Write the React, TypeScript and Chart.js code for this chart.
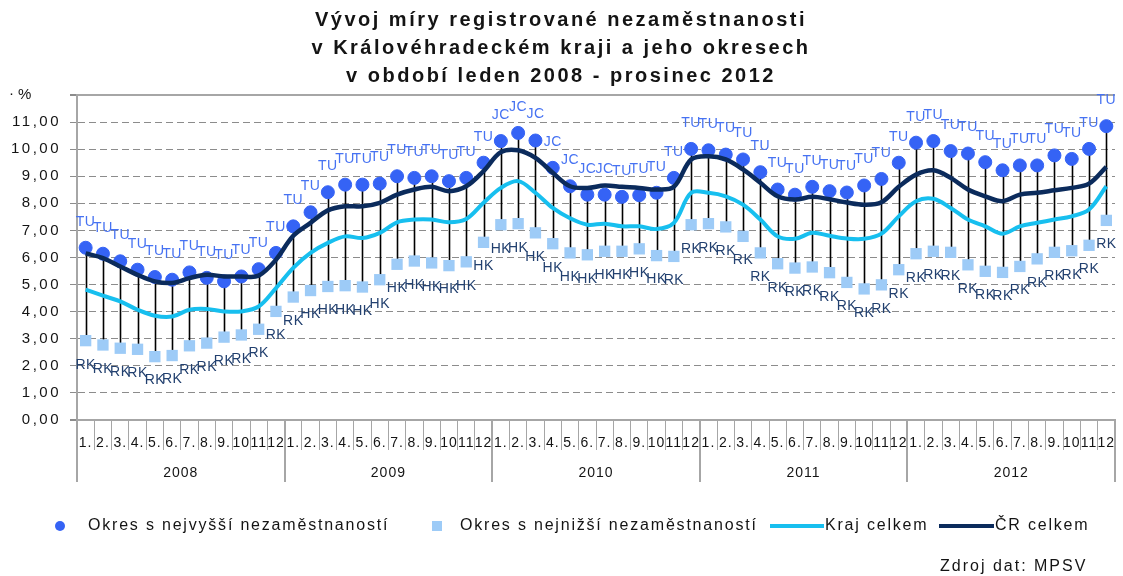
import React, { useEffect, useRef } from 'react';
import { Chart, registerables } from 'chart.js';

Chart.register(...registerables);

const FONT = '"Liberation Sans", Arial, Helvetica, sans-serif';

const titleLines = [
  'Vývoj míry registrované nezaměstnanosti',
  'v Královéhradeckém kraji a jeho okresech',
  'v období leden 2008 - prosinec 2012',
];

const years = ['2008', '2009', '2010', '2011', '2012'];
const monthLabels = ['1.', '2.', '3.', '4.', '5.', '6.', '7.', '8.', '9.', '10', '11', '12'];
const categories = years.flatMap((y) => monthLabels.map((m) => `${m} ${y}`));

const yTickMax = 12;

// Okres s nejvyšší nezaměstnaností
const maxValues = [
  6.36, 6.14, 5.86, 5.55, 5.28, 5.18, 5.45, 5.25, 5.12, 5.3, 5.57, 6.17,
  7.15, 7.67, 8.41, 8.69, 8.69, 8.73, 9.0, 8.94, 9.0, 8.82, 8.94, 9.5,
  10.3, 10.6, 10.32, 9.31, 8.63, 8.32, 8.32, 8.24, 8.3, 8.39, 8.94, 10.01,
  9.96, 9.8, 9.62, 9.15, 8.51, 8.32, 8.61, 8.45, 8.4, 8.66, 8.9, 9.5,
  10.24, 10.3, 9.93, 9.84, 9.52, 9.22, 9.4, 9.4, 9.77, 9.64, 10.01, 10.85,
];
const maxDistricts = [
  'TU', 'TU', 'TU', 'TU', 'TU', 'TU', 'TU', 'TU', 'TU', 'TU', 'TU', 'TU',
  'TU', 'TU', 'TU', 'TU', 'TU', 'TU', 'TU', 'TU', 'TU', 'TU', 'TU', 'TU',
  'JC', 'JC', 'JC', 'JC', 'JC', 'JC', 'JC', 'TU', 'TU', 'TU', 'TU', 'TU',
  'TU', 'TU', 'TU', 'TU', 'TU', 'TU', 'TU', 'TU', 'TU', 'TU', 'TU', 'TU',
  'TU', 'TU', 'TU', 'TU', 'TU', 'TU', 'TU', 'TU', 'TU', 'TU', 'TU', 'TU',
];

// Okres s nejnižší nezaměstnaností
const minValues = [
  2.93, 2.77, 2.65, 2.61, 2.34, 2.38, 2.74, 2.84, 3.06, 3.14, 3.35, 4.01,
  4.54, 4.78, 4.93, 4.96, 4.91, 5.18, 5.75, 5.87, 5.8, 5.7, 5.84, 6.56,
  7.21, 7.25, 6.91, 6.51, 6.17, 6.1, 6.23, 6.23, 6.32, 6.07, 6.04, 7.21,
  7.25, 7.13, 6.78, 6.17, 5.77, 5.61, 5.65, 5.44, 5.08, 4.84, 4.99, 5.55,
  6.14, 6.23, 6.19, 5.73, 5.49, 5.45, 5.67, 5.95, 6.19, 6.25, 6.45, 7.37,
];
const minDistricts = [
  'RK', 'RK', 'RK', 'RK', 'RK', 'RK', 'RK', 'RK', 'RK', 'RK', 'RK', 'RK',
  'RK', 'HK', 'HK', 'HK', 'HK', 'HK', 'HK', 'HK', 'HK', 'HK', 'HK', 'HK',
  'HK', 'HK', 'HK', 'HK', 'HK', 'HK', 'HK', 'HK', 'HK', 'HK', 'RK', 'RK',
  'RK', 'RK', 'RK', 'RK', 'RK', 'RK', 'RK', 'RK', 'RK', 'RK', 'RK', 'RK',
  'RK', 'RK', 'RK', 'RK', 'RK', 'RK', 'RK', 'RK', 'RK', 'RK', 'RK', 'RK',
];

// Kraj celkem
const krajValues = [
  4.81, 4.59, 4.38, 4.07, 3.85, 3.82, 4.07, 4.1, 4.01, 4.01, 4.19, 4.87,
  5.62, 6.17, 6.54, 6.78, 6.72, 6.91, 7.3, 7.4, 7.4, 7.3, 7.42, 8.02,
  8.57, 8.82, 8.39, 7.83, 7.45, 7.21, 7.25, 7.15, 7.15, 7.05, 7.28, 8.39,
  8.39, 8.26, 7.95, 7.4, 6.78, 6.69, 6.91, 6.8, 6.7, 6.69, 6.88, 7.52,
  8.08, 8.17, 7.83, 7.4, 7.15, 6.88, 7.15, 7.28, 7.4, 7.52, 7.77, 8.63,
];

// ČR celkem
const crValues = [
  6.15, 5.98, 5.67, 5.36, 5.12, 5.06, 5.24, 5.36, 5.3, 5.3, 5.33, 5.92,
  6.8, 7.28, 7.74, 7.89, 7.89, 8.02, 8.32, 8.51, 8.61, 8.45, 8.63, 9.19,
  9.89, 9.96, 9.68, 9.13, 8.63, 8.57, 8.66, 8.61, 8.57, 8.51, 8.61, 9.62,
  9.74, 9.62, 9.25, 8.76, 8.26, 8.14, 8.24, 8.15, 8.03, 7.95, 8.04, 8.61,
  9.06, 9.22, 8.94, 8.51, 8.26, 8.08, 8.32, 8.39, 8.48, 8.57, 8.73, 9.35,
];

const seriesNames = [
  'Okres s nejvyšší nezaměstnaností',
  'Okres s nejnižší nezaměstnaností',
  'Kraj celkem',
  'ČR celkem',
];
const sourceText = 'Zdroj dat: MPSV';

const COL_MAX = '#3563F5';
const COL_MAX_LABEL = '#4672F2';
const COL_MIN = '#9DCBF7';
const COL_MIN_LABEL = '#22406F';
const COL_KRAJ = '#17BFEF';
const COL_CR = '#0B2B5C';
const COL_AXIS = '#A6A6A6';
const COL_GRID = '#8C8C8C';
const COL_TEXT = '#141414';

const setSpacing = (ctx: any, v: string) => {
  try {
    ctx.letterSpacing = v;
  } catch (e) {
    /* ignore */
  }
};

const decorPlugin = {
  id: 'decor',
  beforeDraw(chart: any) {
    setSpacing(chart.ctx, '2.5px');
  },
  beforeDatasetsDraw(chart: any) {
    const { ctx, scales } = chart;
    const x = scales.x;
    const y = scales.y;
    ctx.save();
    setSpacing(ctx, '0px');
    ctx.strokeStyle = '#000';
    ctx.lineWidth = 1.6;
    for (let i = 0; i < maxValues.length; i++) {
      const px = Math.round(x.getPixelForValue(i)) + 0.5;
      ctx.beginPath();
      ctx.moveTo(px, y.getPixelForValue(maxValues[i]));
      ctx.lineTo(px, y.getPixelForValue(minValues[i]));
      ctx.stroke();
    }
    ctx.restore();
  },
  afterDatasetsDraw(chart: any) {
    const { ctx } = chart;
    ctx.save();
    setSpacing(ctx, '0.5px');
    ctx.font = `14px ${FONT}`;
    ctx.textAlign = 'center';
    ctx.textBaseline = 'middle';
    const maxMeta = chart.getDatasetMeta(0);
    const minMeta = chart.getDatasetMeta(1);
    ctx.fillStyle = COL_MAX_LABEL;
    maxMeta.data.forEach((pt: any, i: number) => {
      ctx.fillText(maxDistricts[i], pt.x, pt.y - 26);
    });
    ctx.fillStyle = COL_MIN_LABEL;
    minMeta.data.forEach((pt: any, i: number) => {
      ctx.fillText(minDistricts[i], pt.x, pt.y + 24);
    });
    ctx.restore();
    setSpacing(ctx, '1px');
  },
  afterDraw(chart: any) {
    const { ctx, scales, chartArea } = chart;
    const x = scales.x;
    ctx.save();
    // title
    setSpacing(ctx, '2.5px');
    ctx.fillStyle = COL_TEXT;
    ctx.font = `bold 20px ${FONT}`;
    ctx.textAlign = 'center';
    ctx.textBaseline = 'middle';
    titleLines.forEach((t, i) => ctx.fillText(t, 561, 20 + i * 28));

    // % unit
    setSpacing(ctx, '1px');
    ctx.font = `15px ${FONT}`;
    ctx.textAlign = 'left';
    ctx.fillText('·', 9, 94);
    ctx.fillText('%', 18, 95);

    // year separators + labels
    const step = x.getPixelForValue(1) - x.getPixelForValue(0);
    const axisY = chartArea.bottom;
    ctx.strokeStyle = COL_AXIS;
    ctx.lineWidth = 2;
    for (let g = 0; g <= years.length; g++) {
      const bx = g < years.length ? x.getPixelForValue(g * 12) - step / 2 : x.getPixelForValue(g * 12 - 1) + step / 2;
      ctx.beginPath();
      ctx.moveTo(Math.round(bx), axisY);
      ctx.lineTo(Math.round(bx), axisY + 62);
      ctx.stroke();
    }
    ctx.font = `14px ${FONT}`;
    ctx.textAlign = 'center';
    ctx.fillStyle = COL_TEXT;
    years.forEach((yr, g) => {
      const cx = (x.getPixelForValue(g * 12) + x.getPixelForValue(g * 12 + 11)) / 2;
      ctx.fillText(yr, cx, axisY + 53);
    });

    // legend
    const ly = 526;
    setSpacing(ctx, '1.8px');
    ctx.font = `16px ${FONT}`;
    ctx.textAlign = 'left';
    ctx.textBaseline = 'middle';
    ctx.fillStyle = COL_MAX;
    ctx.beginPath();
    ctx.arc(60, ly, 5, 0, Math.PI * 2);
    ctx.fill();
    ctx.fillStyle = COL_TEXT;
    ctx.fillText(seriesNames[0], 88, ly);
    ctx.fillStyle = COL_MIN;
    ctx.fillRect(432, ly - 5, 10, 10);
    ctx.fillStyle = COL_TEXT;
    ctx.fillText(seriesNames[1], 460, ly);
    ctx.strokeStyle = COL_KRAJ;
    ctx.lineWidth = 4;
    ctx.beginPath();
    ctx.moveTo(770, ly);
    ctx.lineTo(824, ly);
    ctx.stroke();
    ctx.fillText(seriesNames[2], 825, ly);
    ctx.strokeStyle = COL_CR;
    ctx.beginPath();
    ctx.moveTo(939, ly);
    ctx.lineTo(994, ly);
    ctx.stroke();
    ctx.fillText(seriesNames[3], 995, ly);

    // source
    setSpacing(ctx, '2px');
    ctx.fillText(sourceText, 940, 567);
    ctx.restore();
    setSpacing(ctx, '0px');
  },
};

const isEdge = (c: any) => c.tick && (c.tick.value === yTickMax || c.tick.value === 0);

export default function App() {
  const ref = useRef<HTMLCanvasElement | null>(null);

  useEffect(() => {
    if (!ref.current) return;
    const chart = new Chart(ref.current, {
      type: 'line',
      data: {
        labels: categories,
        datasets: [
          {
            label: seriesNames[0],
            data: maxValues,
            showLine: false,
            pointStyle: 'circle',
            pointRadius: 6.5,
            pointBackgroundColor: COL_MAX,
            pointBorderColor: COL_MAX,
            pointBorderWidth: 1,
            borderColor: COL_MAX,
            backgroundColor: COL_MAX,
            order: 4,
          },
          {
            label: seriesNames[1],
            data: minValues,
            showLine: false,
            pointStyle: 'rect',
            pointRadius: 8,
            pointBackgroundColor: COL_MIN,
            pointBorderColor: COL_MIN,
            pointBorderWidth: 0,
            borderColor: COL_MIN,
            backgroundColor: COL_MIN,
            order: 3,
          },
          {
            label: seriesNames[2],
            data: krajValues,
            borderColor: COL_KRAJ,
            backgroundColor: COL_KRAJ,
            borderWidth: 4,
            pointRadius: 0,
            tension: 0.35,
            order: 2,
          },
          {
            label: seriesNames[3],
            data: crValues,
            borderColor: COL_CR,
            backgroundColor: COL_CR,
            borderWidth: 4.5,
            pointRadius: 0,
            tension: 0.35,
            order: 1,
          },
        ],
      },
      options: {
        responsive: false,
        animation: false,
        events: [],
        devicePixelRatio: 1,
        layout: { padding: { top: 95, left: 0, right: 2, bottom: 94 } },
        plugins: {
          legend: { display: false },
          tooltip: { enabled: false },
          title: { display: false },
        },
        scales: {
          x: {
            type: 'category',
            offset: true,
            afterFit: (s: any) => {
              s.height = 62;
            },
            grid: {
              offset: true,
              drawOnChartArea: false,
              drawTicks: true,
              tickLength: 30,
              color: COL_AXIS,
              lineWidth: 1,
            },
            border: { display: true, color: COL_AXIS, width: 2 },
            ticks: {
              autoSkip: false,
              maxRotation: 0,
              minRotation: 0,
              padding: -15,
              z: 1,
              color: COL_TEXT,
              font: { family: FONT, size: 14 },
              callback: (_v: any, i: number) => monthLabels[i % 12],
            },
          },
          y: {
            min: 0,
            max: yTickMax,
            afterFit: (s: any) => {
              s.width = 77;
            },
            ticks: {
              stepSize: 1,
              padding: 9,
              color: COL_TEXT,
              font: { family: FONT, size: 15 },
              callback: (v: any) => (Number(v) >= yTickMax ? '' : Number(v).toFixed(2).replace('.', ',')),
            },
            grid: {
              color: (c: any) => (isEdge(c) ? COL_AXIS : COL_GRID),
              lineWidth: (c: any) => (isEdge(c) ? 2 : 1),
              tickLength: 7,
              drawTicks: true,
              tickColor: COL_GRID,
            },
            border: {
              display: true,
              color: COL_AXIS,
              width: 2,
              dash: (c: any) => (isEdge(c) ? [] : [7, 4]),
            },
          },
        },
      },
      plugins: [decorPlugin],
    } as any);
    return () => chart.destroy();
  }, []);

  return (
    <div style={{ position: 'fixed', left: 0, top: 0, width: 1123, height: 576, background: '#fff' }}>
      <canvas ref={ref} width={1123} height={576} style={{ display: 'block', width: 1123, height: 576 }} />
    </div>
  );
}
